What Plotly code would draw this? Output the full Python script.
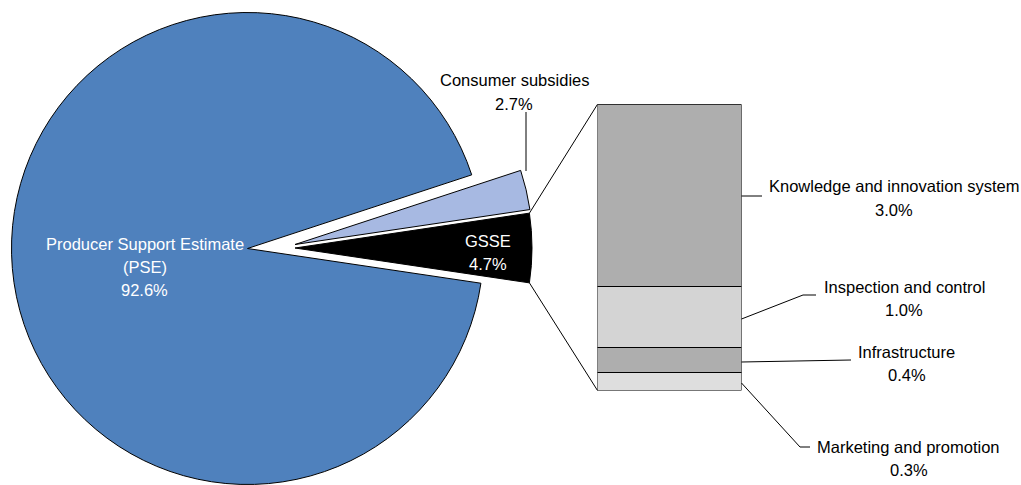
import math
import plotly.graph_objects as go

# ---- data -------------------------------------------------------------
pie_labels = ["Consumer subsidies", "GSSE", "Producer Support Estimate (PSE)"]
pie_values = [2.7, 4.7, 92.6]          # % of total support
pie_colors = ["#A7B9E2", "#000000", "#4F81BD"]

gsse_labels = ["Marketing and promotion", "Infrastructure",
               "Inspection and control", "Knowledge and innovation system"]
gsse_values = [0.3, 0.4, 1.0, 3.0]     # % of total support, bottom to top
gsse_colors = ["#DEDEDE", "#AEAEAE", "#D4D4D4", "#AEAEAE"]

# ---- canvas -----------------------------------------------------------
W, H = 1021, 485
FONT = "Liberation Sans, Arial, sans-serif"
FONT_SIZE = 16.5


def fx(px):
    return px / W


def fy(py):
    return 1 - py / H


def pie_domain(cx, cy, r):
    return dict(x=[(cx - r) / W, (cx + r) / W],
                y=[max(0.0, 1 - (cy + r) / H), min(1.0, 1 - (cy - r) / H)])


# GSSE slice centred on 3 o'clock, consumer slice just above it
rotation = 90 - 3.6 * (pie_values[1] / 2 + pie_values[0])

# each slice gets its own pie so the small ones can sit apart from PSE
pie_geom = [
    (295.0, 244.5, 237.5),   # consumer subsidies
    (295.0, 248.0, 237.0),   # GSSE
    (247.5, 248.5, 236.0),   # PSE
]

fig = go.Figure()

for i, (cx, cy, r) in enumerate(pie_geom):
    colors = [c if j == i else "rgba(0,0,0,0)" for j, c in enumerate(pie_colors)]
    widths = [1 if j == i else 0 for j in range(len(pie_values))]
    fig.add_trace(go.Pie(
        labels=pie_labels, values=pie_values, sort=False,
        direction="clockwise", rotation=rotation,
        marker=dict(colors=colors, line=dict(color="#000000", width=widths)),
        textinfo="none", hoverinfo="label+percent",
        domain=pie_domain(cx, cy, r), showlegend=False,
    ))

# ---- GSSE breakdown bar ----------------------------------------------
bar_left, bar_right = 597.5, 741.5
bar_top, bar_bottom = 104.3, 390.5

for lab, val, col in zip(gsse_labels, gsse_values, gsse_colors):
    fig.add_trace(go.Bar(
        x=[0], y=[val], width=1, name=lab,
        marker=dict(color=col, line=dict(color="#000000", width=1)),
        showlegend=False, hovertemplate=lab + ": %{y:.1f}%<extra></extra>",
    ))

# ---- connector from GSSE slice to the bar -----------------------------
gcx, gcy, gr = pie_geom[1]
half = 3.6 * pie_values[1] / 2
up = (gcx + gr * math.cos(math.radians(half)), gcy - gr * math.sin(math.radians(half)))
lo = (gcx + gr * math.cos(math.radians(-half)), gcy - gr * math.sin(math.radians(-half)))

shapes = []


def seg(pts):
    for (x0, y0), (x1, y1) in zip(pts[:-1], pts[1:]):
        shapes.append(dict(type="line", xref="paper", yref="paper",
                           x0=fx(x0), y0=fy(y0), x1=fx(x1), y1=fy(y1),
                           line=dict(color="#000000", width=1)))


seg([up, (bar_left, bar_top)])
seg([lo, (bar_left, bar_bottom)])

# leader lines
seg([(526, 112), (526, 171)])                              # consumer subsidies
seg([(bar_right, 196), (762, 196)])                        # knowledge
seg([(bar_right, 319), (803, 295), (816, 295)])            # inspection
seg([(bar_right, 362), (851, 360)])                        # infrastructure
seg([(bar_right, 383), (800, 447), (810, 447)])            # marketing

# ---- labels -----------------------------------------------------------
annotations = []


def label(lines, x, y0, color="#000000", step=23.3):
    for k, t in enumerate(lines):
        annotations.append(dict(
            text=t, x=fx(x), y=fy(y0 + k * step), xref="paper", yref="paper",
            xanchor="center", yanchor="middle", showarrow=False,
            font=dict(family=FONT, size=FONT_SIZE, color=color)))


def pct(v):
    return f"{v:.1f}%"


label(["Producer Support Estimate", "(PSE)", pct(pie_values[2])], 144.5, 243.5, "#FFFFFF")
label([pie_labels[1], pct(pie_values[1])], 487.5, 240.5, "#FFFFFF")
label([pie_labels[0], pct(pie_values[0])], 514, 80.5)

label([gsse_labels[3], pct(gsse_values[3])], 894, 186.5)
label([gsse_labels[2], pct(gsse_values[2])], 904, 286.5)
label([gsse_labels[1], pct(gsse_values[1])], 906.5, 351.5)
label([gsse_labels[0], pct(gsse_values[0])], 908.5, 446.5)

fig.update_layout(
    width=W, height=H,
    margin=dict(l=0, r=0, t=0, b=0),
    paper_bgcolor="#FFFFFF", plot_bgcolor="rgba(0,0,0,0)",
    barmode="stack",
    xaxis=dict(domain=[fx(bar_left), fx(bar_right)], range=[-0.5, 0.5],
               visible=False, fixedrange=True),
    yaxis=dict(domain=[fy(bar_bottom), fy(bar_top)], range=[0, sum(gsse_values)],
               visible=False, fixedrange=True),
    shapes=shapes, annotations=annotations,
    font=dict(family=FONT, size=FONT_SIZE),
)

fig.write_html("out.html")
